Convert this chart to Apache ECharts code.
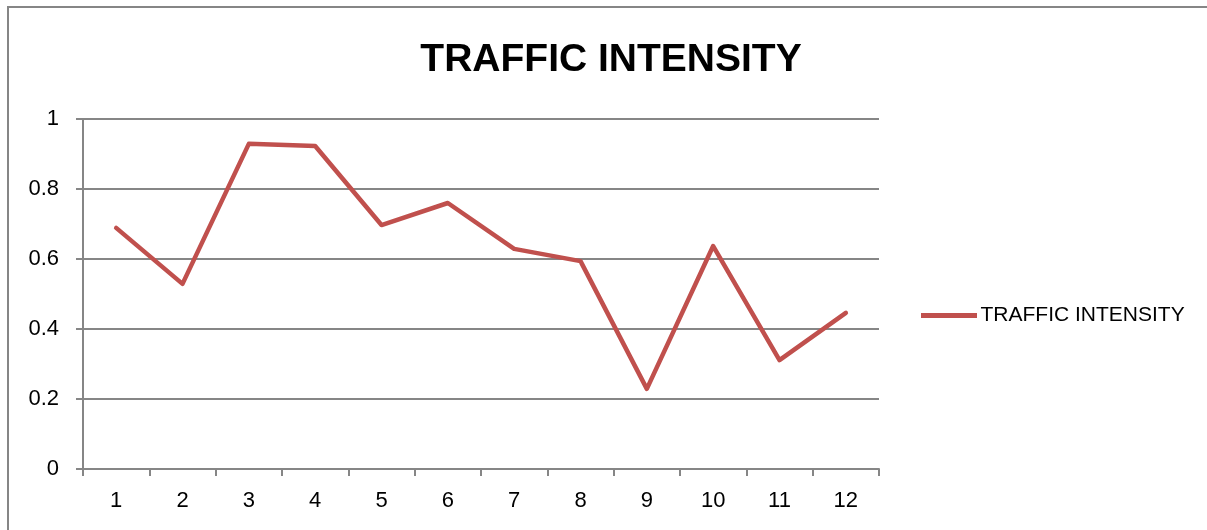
<!DOCTYPE html>
<html>
<head>
<meta charset="utf-8">
<script src="https://cdn.jsdelivr.net/npm/echarts@6/dist/echarts.min.js"></script>
<style>
  html, body { margin: 0; padding: 0; background: #fff; }
  #chart { width: 1207px; height: 530px; }
</style>
</head>
<body>
<div id="chart"></div>
<script>
// values
const categories = ['1', '2', '3', '4', '5', '6', '7', '8', '9', '10', '11', '12'];
const intensity = [0.689, 0.529, 0.929, 0.923, 0.697, 0.76, 0.629, 0.594, 0.229, 0.637, 0.311, 0.446];
const seriesName = 'TRAFFIC INTENSITY';

const GRAY = '#868686';
const RED = '#c0504d';
const FONT = '"Liberation Sans", "Open Sans", sans-serif';

const chart = echarts.init(document.getElementById('chart'));
chart.setOption({
  animation: false,
  textStyle: { fontFamily: FONT },
  graphic: [{
    type: 'rect',
    shape: { x: 8, y: 7, width: 1210, height: 540 },
    style: { fill: 'none', stroke: GRAY, lineWidth: 2 },
    silent: true,
  }],
  title: {
    text: 'TRAFFIC INTENSITY',
    left: 606,
    top: 36,
    textAlign: 'center',
    textStyle: { fontSize: 39, fontWeight: 'bold', color: '#000', fontFamily: FONT },
  },
  legend: {
    left: 916,
    top: 300,
    itemWidth: 57,
    itemHeight: 5,
    itemGap: 4,
    textStyle: { fontSize: 21, color: '#000', fontFamily: FONT, padding: [0, 0, 0, -2] },
    data: [{ name: seriesName, icon: 'path://M0,0 L56,0 L56,5 L0,5 Z' }],
  },
  grid: { left: 83, right: 328, top: 119, bottom: 61 },
  xAxis: {
    type: 'category',
    data: categories,
    boundaryGap: true,
    axisLine: { lineStyle: { color: GRAY, width: 2 } },
    axisTick: { show: true, length: 7, lineStyle: { color: GRAY, width: 2 } },
    axisLabel: { fontSize: 22, color: '#000', margin: 21 },
  },
  yAxis: {
    type: 'value',
    min: 0,
    max: 1,
    interval: 0.2,
    axisLine: { show: true, lineStyle: { color: GRAY, width: 2 } },
    axisTick: { show: true, inside: false, length: 7, lineStyle: { color: GRAY, width: 2 } },
    splitLine: { lineStyle: { color: GRAY, width: 2 } },
    axisLabel: { fontSize: 22, color: '#000', margin: 24, formatter: v => String(+v.toFixed(1)) },
  },
  series: [{
    name: seriesName,
    type: 'line',
    data: intensity,
    symbol: 'none',
    lineStyle: { color: RED, width: 4.5, join: 'round', cap: 'round' },
    itemStyle: { color: RED },
  }],
});
</script>
</body>
</html>
